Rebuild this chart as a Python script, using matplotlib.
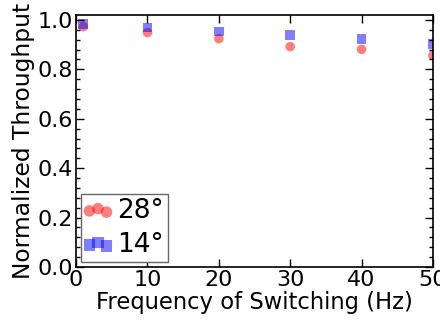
import numpy as np
import matplotlib
matplotlib.use("Agg")
import matplotlib.pyplot as plt
from matplotlib.ticker import AutoMinorLocator
from matplotlib.legend_handler import HandlerPathCollection

freq = [1, 10, 20, 30, 40, 50]
thr_28 = [0.973, 0.949, 0.924, 0.892, 0.881, 0.856]
thr_14 = [0.984, 0.970, 0.953, 0.939, 0.922, 0.903]
labels = ["28°", "14°"]

plt.rcParams['font.family'] = 'DejaVu Sans'
plt.rcParams['xtick.direction'] = 'in'
plt.rcParams['ytick.direction'] = 'in'

fig = plt.figure(figsize=(4.4, 3.2), dpi=100)
ax = fig.add_axes([0.173, 0.1656, 0.811, 0.7875])

p28 = ax.scatter(freq, thr_28, s=48, c='r', marker='o', alpha=0.5, edgecolors='none', label=labels[0])
p14 = ax.scatter(freq, thr_14, s=48, c='b', marker='s', alpha=0.5, edgecolors='none', label=labels[1])

ax.set_xlim(0, 50)
ax.set_ylim(0, 1.02)
ax.set_xticks([0, 10, 20, 30, 40, 50])
ax.set_yticks([0.0, 0.2, 0.4, 0.6, 0.8, 1.0])
ax.yaxis.set_minor_locator(AutoMinorLocator(5))
ax.tick_params(which='both', top=True, right=True, labelsize=16, pad=2)
ax.tick_params(which='major', length=6, width=1)
ax.tick_params(which='minor', length=3, width=1)
for sp in ax.spines.values():
    sp.set_linewidth(1.2)

ax.set_xlabel("Frequency of Switching (Hz)", fontsize=16.3, labelpad=1)
ax.set_ylabel("Normalized Throughput", fontsize=16.8, labelpad=2)

hm = {p28: HandlerPathCollection(marker_pad=0.15), p14: HandlerPathCollection(marker_pad=0.15)}
leg = ax.legend(loc='lower left', fontsize=19, scatterpoints=3, fancybox=False,
                handlelength=0.95, handletextpad=0.25, borderpad=0.15, labelspacing=0.3,
                borderaxespad=0.2, framealpha=1, markerscale=1.2, handler_map=hm)
leg.get_frame().set_edgecolor('0.4')

fig.savefig("out.png", dpi=100)
